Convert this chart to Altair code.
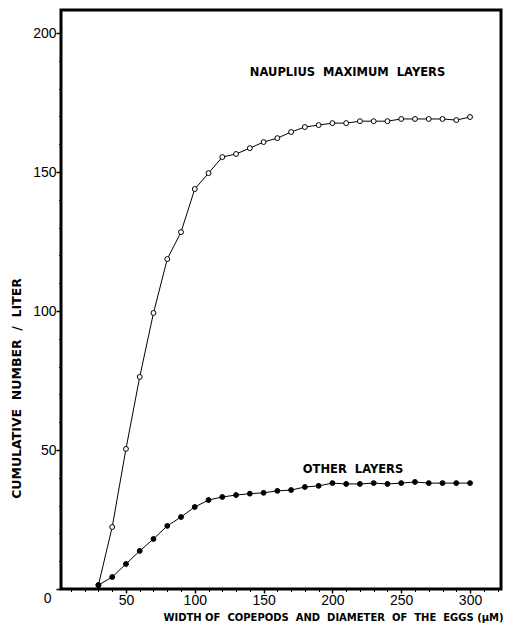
import altair as alt
import pandas as pd

widths = list(range(30, 301, 10))
nauplius = [1.4, 22.3, 50.4, 76.3, 99.3, 118.7, 128.4, 143.9, 149.6, 155.4,
            156.5, 158.6, 160.8, 162.2, 164.4, 166.2, 166.9, 167.6, 167.6, 168.3,
            168.3, 168.3, 169.1, 169.1, 169.1, 169.1, 168.7, 169.8]
other = [1.4, 4.3, 9.0, 13.7, 18.0, 22.7, 25.9, 29.5, 32.0, 33.1,
         33.8, 34.3, 34.6, 35.3, 35.6, 36.7, 37.1, 38.1, 37.8, 37.8,
         38.1, 37.8, 38.1, 38.5, 38.1, 38.1, 38.1, 38.1]

x_major = [50, 100, 150, 200, 250, 300]
x_minor = list(range(10, 321, 10))
y_major = [0, 50, 100, 150, 200]
y_minor = list(range(0, 201, 10))

label_text = ["NAUPLIUS\u00a0\u00a0MAXIMUM\u00a0\u00a0LAYERS", "OTHER\u00a0\u00a0LAYERS"]
label_x = [211, 215]
label_y = [185.6, 42.8]

x_title = "WIDTH\u00a0OF\u00a0\u00a0COPEPODS\u00a0\u00a0AND\u00a0\u00a0DIAMETER\u00a0\u00a0OF\u00a0\u00a0THE\u00a0\u00a0EGGS\u00a0(\u00b5M)"
y_title = "CUMULATIVE\u00a0\u00a0NUMBER\u00a0\u00a0/\u00a0\u00a0LITER"

df_n = pd.DataFrame({"width": widths, "value": nauplius})
df_o = pd.DataFrame({"width": widths, "value": other})
df_l = pd.DataFrame({"label": label_text, "width": label_x, "value": label_y})

tick_font = "Liberation Sans"
title_font = "DejaVu Sans"

x_scale = alt.Scale(domain=[2.8, 322.5], nice=False, zero=False)
y_scale = alt.Scale(domain=[0, 208.3], nice=False, zero=True)

x_enc = alt.X(
    "width:Q",
    scale=x_scale,
    axis=alt.Axis(
        orient="bottom",
        values=x_major,
        labelOverlap=False,
        labelFlush=False,
        title=x_title,
        domain=False,
        tickSize=4,
        tickWidth=1.5,
        tickColor="black",
        labelPadding=0,
        labelFont=tick_font,
        labelFontSize=14,
        labelColor="black",
        titleFont=title_font,
        titleFontSize=10,
        titleFontWeight="bold",
        titleColor="black",
        titleX=272,
        titleY=28,
        titleAlign="center",
        titleBaseline="middle",
        grid=False,
    ),
)

y_enc = alt.Y(
    "value:Q",
    scale=y_scale,
    axis=alt.Axis(
        orient="left",
        values=y_major,
        labelOverlap=False,
        labelFlush=False,
        title=y_title,
        domain=False,
        tickSize=5,
        tickWidth=1.5,
        tickColor="black",
        labelPadding={"condition": {"test": "datum.value === 0", "value": 5}, "value": 0},
        labelOffset={"condition": {"test": "datum.value === 0", "value": 9}, "value": 0},
        labelFont=tick_font,
        labelFontSize=14,
        labelColor="black",
        titleFont=title_font,
        titleFontSize=12.5,
        titleFontWeight="bold",
        titleColor="black",
        titleX=-45,
        titleY=378,
        titleAngle=270,
        titleAlign="center",
        titleBaseline="middle",
        grid=False,
    ),
)

x_minor_enc = alt.X(
    "width:Q",
    scale=x_scale,
    axis=alt.Axis(orient="bottom", values=x_minor, labels=False, title=None, domain=False,
                  tickSize=2.5, tickWidth=1, tickColor="black", grid=False),
)
y_minor_enc = alt.Y(
    "value:Q",
    scale=y_scale,
    axis=alt.Axis(orient="left", values=y_minor, labels=False, title=None, domain=False,
                  tickSize=2.5, tickWidth=1, tickColor="black", grid=False),
)

minor = alt.Chart(df_n).mark_line(opacity=0).encode(x=x_minor_enc, y=y_minor_enc)

line_n = alt.Chart(df_n).mark_line(color="black", strokeWidth=1).encode(x=x_enc, y=y_enc)
pts_n = alt.Chart(df_n).mark_point(
    shape="circle", filled=True, fill="white", stroke="black", strokeWidth=1, size=24, opacity=1
).encode(x=alt.X("width:Q", axis=None), y=alt.Y("value:Q", axis=None))

line_o = alt.Chart(df_o).mark_line(color="black", strokeWidth=1).encode(
    x=alt.X("width:Q", axis=None), y=alt.Y("value:Q", axis=None))
pts_o = alt.Chart(df_o).mark_point(
    shape="circle", filled=True, fill="black", stroke="black", strokeWidth=1, size=24, opacity=1
).encode(x=alt.X("width:Q", axis=None), y=alt.Y("value:Q", axis=None))

labels = alt.Chart(df_l).mark_text(
    font=title_font, fontSize=11.5, fontWeight="bold", color="black", align="center", baseline="middle"
).encode(x=alt.X("width:Q", axis=None), y=alt.Y("value:Q", axis=None), text="label:N")

chart = (
    alt.layer(minor, line_n, line_o, pts_n, pts_o, labels)
    .resolve_axis(x="independent", y="independent")
    .properties(
        width=440,
        height=579,
        autosize=alt.AutoSizeParams(type="none"),
        padding={"left": 53, "top": 2, "right": 8, "bottom": 38},
        background="white",
    )
    .configure_view(stroke="black", strokeWidth=3)
)

chart.save("out.html", embed_options={"renderer": "svg", "actions": False})
